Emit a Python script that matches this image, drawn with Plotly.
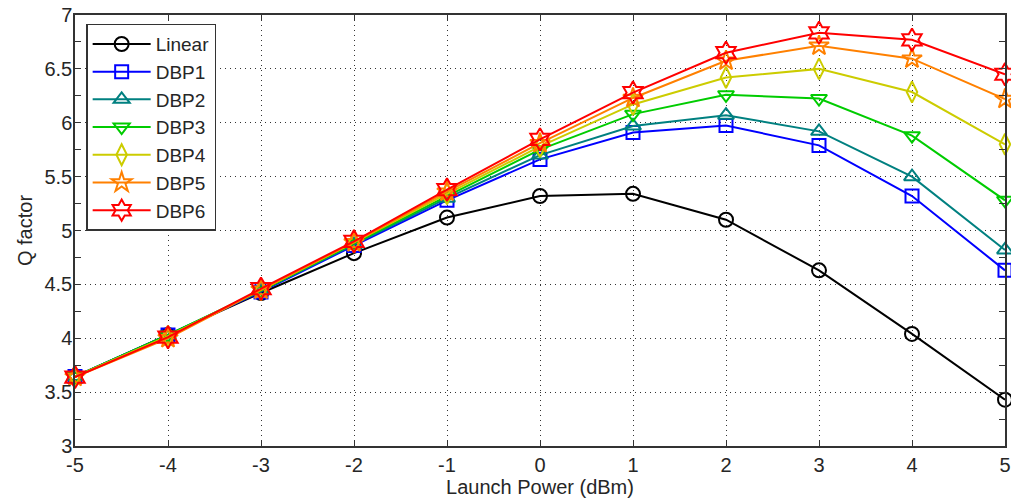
import plotly.graph_objects as go

launch_power = [-5, -4, -3, -2, -1, 0, 1, 2, 3, 4, 5]

linear = [3.645, 4.03, 4.42, 4.79, 5.12, 5.32, 5.34, 5.10, 4.63, 4.04, 3.43]
dbp1 = [3.645, 4.03, 4.43, 4.86, 5.28, 5.66, 5.91, 5.975, 5.79, 5.32, 4.63]
dbp2 = [3.645, 4.03, 4.44, 4.87, 5.30, 5.70, 5.97, 6.07, 5.92, 5.50, 4.82]
dbp3 = [3.645, 4.03, 4.44, 4.88, 5.32, 5.75, 6.08, 6.26, 6.225, 5.88, 5.28]
dbp4 = [3.645, 4.02, 4.45, 4.89, 5.34, 5.78, 6.17, 6.42, 6.50, 6.285, 5.80]
dbp5 = [3.64, 4.00, 4.45, 4.89, 5.36, 5.81, 6.23, 6.575, 6.715, 6.595, 6.22]
dbp6 = [3.64, 4.01, 4.46, 4.90, 5.38, 5.845, 6.28, 6.65, 6.835, 6.77, 6.45]

series_names = ["Linear", "DBP1", "DBP2", "DBP3", "DBP4", "DBP5", "DBP6"]
series_values = [linear, dbp1, dbp2, dbp3, dbp4, dbp5, dbp6]
colors = ["#000000", "#0000ff", "#008080", "#00cc00", "#cccc00", "#ff8000", "#ff0000"]
symbols = ["circle-open", "square-open", "triangle-up-open", "triangle-down-open",
           "diamond-tall-open", "star-open", "hexagram-open"]
sizes = [14, 13, 14, 14, 15, 15, 17]

x_ticks = [-5, -4, -3, -2, -1, 0, 1, 2, 3, 4, 5]
y_ticks = [3, 3.5, 4, 4.5, 5, 5.5, 6, 6.5, 7]
y_tick_labels = ["3", "3.5", "4", "4.5", "5", "5.5", "6", "6.5", "7"]

FONT = "Liberation Sans, Arial, sans-serif"
FS = 20
TXT = "#262626"

fig = go.Figure()
for name, vals, c, s, sz in zip(series_names, series_values, colors, symbols, sizes):
    fig.add_trace(go.Scatter(
        x=launch_power, y=vals, name=name, mode="lines+markers",
        line=dict(color=c, width=2),
        marker=dict(symbol=s, size=sz, color=c, line=dict(color=c, width=2)),
        cliponaxis=False,
    ))

axis_common = dict(
    automargin=False,
    showline=True, linecolor="#333333", linewidth=1.5, mirror="allticks",
    ticks="inside", ticklen=6, tickcolor="#333333", tickwidth=1.2,
    showgrid=True, gridcolor="#333333", griddash="1px,4px", gridwidth=1.2,
    zeroline=False, ticklabeloverflow="allow",
    tickfont=dict(family=FONT, size=FS, color=TXT),
)

fig.update_xaxes(
    range=[-5, 5], tickvals=x_ticks, ticktext=[str(v) for v in x_ticks],
    ticklabelstandoff=0,
    title=dict(text="Launch Power (dBm)", font=dict(family=FONT, size=FS, color=TXT), standoff=2),
    **axis_common,
)
fig.update_yaxes(
    range=[3, 7], tickvals=y_ticks, ticktext=y_tick_labels,
    ticklabelstandoff=-3,
    minor=dict(ticks="inside", ticklen=6, tickcolor="#333333", dtick=0.25, showgrid=False),
    title=dict(text="Q factor", font=dict(family=FONT, size=FS, color=TXT), standoff=6),
    **axis_common,
)

fig.update_layout(
    width=1011, height=501,
    margin=dict(l=75, r=6, t=15, b=55),
    paper_bgcolor="white", plot_bgcolor="white",
    font=dict(family=FONT, size=FS, color=TXT),
    legend=dict(
        x=0.012, y=0.98, xanchor="left", yanchor="top",
        bgcolor="white", bordercolor="#333333", borderwidth=1.5,
        font=dict(family=FONT, size=19, color=TXT),
        itemwidth=58, tracegroupgap=0,
    ),
    showlegend=True,
)

fig.write_html(
    "out.html",
    config={"displayModeBar": False},
    post_script="document.body.style.margin='0';document.body.style.overflow='hidden';",
)
